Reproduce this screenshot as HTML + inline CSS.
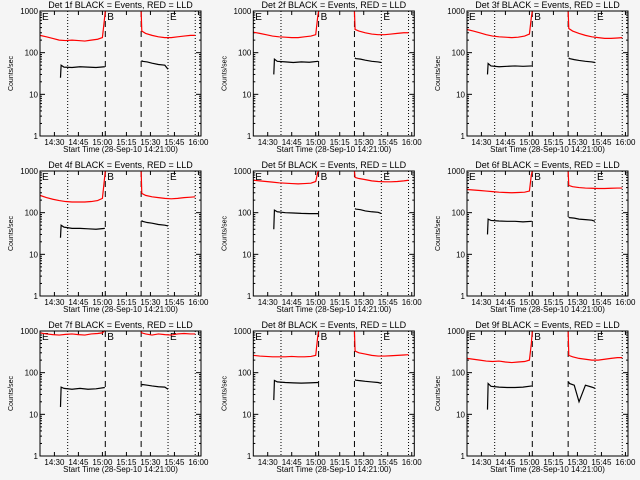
<!DOCTYPE html>
<html><head><meta charset="utf-8"><style>
html,body{margin:0;padding:0;background:#f5f5f5;}
svg{display:block;font-family:"Liberation Sans",sans-serif;}
</style></head><body>
<svg id="c" width="640" height="480" viewBox="0 0 640 480"></svg>
<script>
const dets=["1f","2f","3f","4f","5f","6f","7f","8f","9f"];
const xTickLabels=["14:30","14:45","15:00","15:15","15:30","15:45","16:00"];
const xTickMins=[9,24,39,54,69,84,99];
const yTickVals=[1,10,100,1000];
const yTickLabels=["1","10","100","1000"];
const dottedMins=[17.3,80,97];
const dashedMins=[40.8,63.2];
const redPreT=[0,4,8,12,16,20,24,28,32,36,39,40.2,40.8];
const redPostT=[63.2,63.6,66,70,74,78,82,86,90,94,97];
const blkPreT=[12.8,13.2,15,20,25,30,35,40.5];
const blkPostT=[63.5,64,67,70,74,78,80];
const redPre=[
[260,240,220,200,195,200,195,190,200,210,230,600,1300],
[310,290,270,250,240,235,230,230,240,250,270,700,1300],
[360,330,300,270,250,240,235,230,235,250,280,700,1300],
[260,230,210,195,185,180,180,180,185,195,220,600,1300],
[600,580,560,540,520,510,500,490,500,510,560,900,1300],
[360,350,340,330,320,310,305,300,305,310,330,800,1300],
[900,850,820,800,830,850,820,800,850,870,900,1000,1300],
[260,250,245,240,240,240,245,240,240,245,260,700,1300],
[220,210,200,190,185,190,180,175,180,185,200,500,1300]];
const redPost=[
[1300,330,290,260,240,230,230,240,250,260,260],
[1300,360,330,300,280,270,270,280,290,300,300],
[1300,380,330,290,260,240,230,220,220,225,230],
[1300,290,260,240,230,220,215,220,230,235,240],
[1300,700,660,620,580,560,550,550,560,580,600],
[1300,450,420,400,390,385,380,380,385,390,390],
[1300,900,850,800,850,820,800,850,870,850,850],
[1300,330,300,280,260,250,250,255,260,265,270],
[1300,260,240,220,210,200,200,210,220,230,230]];
const blkPre=[
[25,50,45,44,46,45,44,46],
[30,70,62,60,58,60,59,62],
[30,55,48,46,47,48,47,48],
[25,50,45,42,42,41,40,42],
[40,115,105,100,98,96,95,95],
[30,70,65,63,62,62,60,62],
[15,45,42,40,42,40,41,44],
[22,65,60,58,57,56,57,58],
[13,55,47,45,44,44,45,48]];
const blkPost=[
[65,62,60,56,52,50,40],
[75,72,70,66,62,60,58],
[75,72,68,65,62,60,58],
[65,62,58,56,52,50,48],
[125,122,118,110,105,102,95],
[78,76,74,70,68,66,62],
[50,52,50,48,46,45,40],
[68,66,64,62,60,58,55],
[60,55,50,20,50,45,42]];

const svg=document.getElementById('c');
const NS='http://www.w3.org/2000/svg';
function mk(tag,attrs,parent){const e=document.createElementNS(NS,tag);for(const k in attrs)e.setAttribute(k,attrs[k]);parent.appendChild(e);return e;}
const colX=[40,253.3,467],rowY=[11,171,331],W=161,H=125;
for(let i=0;i<9;i++){
  const x0=colX[i%3],y0=rowY[Math.floor(i/3)];
  const sx=m=>x0+m*W/100.6;
  const sy=v=>{v=Math.min(Math.max(v,1),1000);return y0+H-Math.log10(v)*H/3;};
  const g=mk('g',{},svg);
  
  
  const t=mk('text',{x:x0+W/2,y:y0-3,'text-anchor':'middle','font-size':'9'},g);
  t.textContent='Det '+dets[i]+' BLACK = Events, RED = LLD';
  
  
  const yl=mk('text',{x:0,y:0,'text-anchor':'middle','font-size':'7',transform:`translate(${x0-27},${y0+H/2}) rotate(-90)`},g);
  yl.textContent='Counts/sec';
  
  
  const xl=mk('text',{x:x0+W/2,y:y0+H+16,'text-anchor':'middle','font-size':'8'},g);
  xl.textContent='Start Time (28-Sep-10 14:21:00)';
  
  
  yTickVals.forEach((v,k)=>{
    const y=sy(v);
    mk('line',{x1:x0,x2:x0+5,y1:y,y2:y,stroke:'#000'},g);
    mk('line',{x1:x0+W-5,x2:x0+W,y1:y,y2:y,stroke:'#000'},g);
    const tl=mk('text',{x:x0-2,y:y+3,'text-anchor':'end','font-size':'8'},g);
    tl.textContent=yTickLabels[k];
    
    
    if(v<1000)for(let m=2;m<10;m++){const yy=sy(v*m);mk('line',{x1:x0,x2:x0+2,y1:yy,y2:yy,stroke:'#000'},g);mk('line',{x1:x0+W-2,x2:x0+W,y1:yy,y2:yy,stroke:'#000'},g);}
  });
  xTickMins.forEach((m,k)=>{
    const x=sx(m);
    mk('line',{x1:x,x2:x,y1:y0+H,y2:y0+H-4,stroke:'#000'},g);
    mk('line',{x1:x,x2:x,y1:y0,y2:y0+4,stroke:'#000'},g);
    const tl=mk('text',{x:x,y:y0+H+9,'text-anchor':'middle','font-size':'8'},g);
    tl.textContent=xTickLabels[k];
    
    
  });
  dottedMins.forEach(m=>mk('line',{x1:sx(m),x2:sx(m),y1:y0,y2:y0+H,stroke:'#000','stroke-dasharray':'1,2'},g));
  dashedMins.forEach(m=>mk('line',{x1:sx(m),x2:sx(m),y1:y0,y2:y0+H,stroke:'#000','stroke-dasharray':'6,4'},g));
  [['E',x0+2],['B',sx(dashedMins[0])+2],['E',sx(dottedMins[1])+2]].forEach(([s,x])=>{
    const e=mk('text',{x:x,y:y0+9,'font-size':'10'},g);e.textContent=s;
    
    
  });
  const line=(T,V,col,name)=>{
    const p=mk('polyline',{points:T.map((tt,k)=>sx(tt)+','+sy(V[k])).join(' '),fill:'none',stroke:col,'stroke-width':'1.2'},g);
    
    
  };
  line(redPreT,redPre[i],'#ff0000','lld-series-pre');
  line(redPostT,redPost[i],'#ff0000','lld-series-post');
  line(blkPreT,blkPre[i],'#000','events-series-pre');
  line(blkPostT,blkPost[i],'#000','events-series-post');
  const box=mk('rect',{x:x0,y:y0,width:W,height:H,fill:'none',stroke:'#000'},g);
  
  
}
</script>
</body></html>
